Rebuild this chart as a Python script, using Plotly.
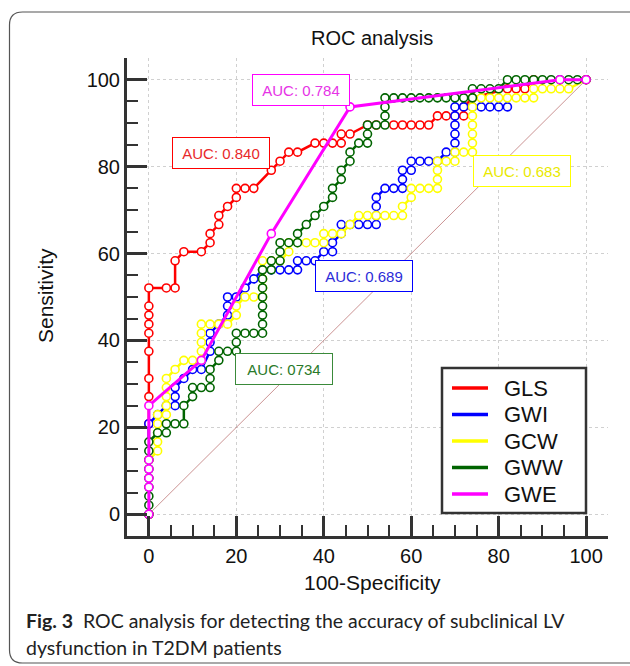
import plotly.graph_objects as go

# ---------------- data (100-Specificity, Sensitivity) ----------------
gls_x = [0, 0, 0, 0, 0, 0, 0, 0, 0, 0, 4, 6, 6, 8, 12, 14, 14, 16, 16, 18, 20, 20, 22, 24, 28, 30, 32, 34,
         38, 40, 42, 44, 44, 46, 50, 52, 56, 58, 60, 62, 64, 66, 68, 70, 72, 72, 74, 82, 84, 86, 88, 100]
gls_y = [0, 20.83, 27.08, 31.25, 37.5, 41.67, 43.75, 45.83, 47.92, 52.08, 52.08, 52.08, 58.33, 60.42, 60.42,
         62.5, 64.58, 66.67, 68.75, 70.83, 72.92, 75, 75, 75, 79.17, 81.25, 83.33, 83.33, 85.42, 85.42, 85.42,
         85.42, 87.5, 87.5, 89.58, 89.58, 89.58, 89.58, 89.58, 89.58, 89.58, 91.67, 91.67, 91.67, 91.67, 93.75,
         95.83, 97.92, 97.92, 97.92, 100, 100]

gwi_x = [0, 0, 2, 4, 6, 6, 6, 8, 10, 12, 14, 14, 14, 16, 18, 18, 18, 20, 22, 24, 26, 28, 30, 32, 34, 34, 36,
         38, 40, 42, 42, 44, 44, 46, 48, 50, 52, 52, 52, 52, 54, 56, 58, 58, 58, 60, 60, 62, 64, 66, 68, 70,
         70, 70, 70, 70, 70, 72, 74, 76, 78, 80, 82]
gwi_y = [0, 20.83, 22.92, 25, 25, 27.08, 29.17, 31.25, 33.33, 33.33, 37.5, 39.58, 41.67, 43.75, 45.83, 47.92,
         50, 50, 52.08, 54.17, 56.25, 56.25, 56.25, 56.25, 56.25, 58.33, 58.33, 58.33, 60.42, 60.42, 62.5,
         64.58, 66.67, 66.67, 66.67, 66.67, 66.67, 68.75, 70.83, 72.92, 75, 75, 75, 77.08, 79.17, 79.17,
         81.25, 81.25, 81.25, 81.25, 83.33, 83.33, 85.42, 87.5, 89.58, 91.67, 93.75, 93.75, 93.75, 93.75,
         93.75, 93.75, 93.75]

gcw_x = [0, 0, 2, 2, 2, 2, 2, 4, 4, 4, 4, 4, 6, 8, 10, 12, 12, 12, 12, 12, 14, 16, 18, 20, 20, 22, 24, 26,
         26, 26, 26, 26, 28, 30, 32, 32, 34, 36, 38, 40, 40, 42, 44, 46, 48, 50, 52, 54, 56, 58, 58, 60, 60,
         62, 64, 66, 66, 66, 66, 68, 70, 70, 72, 74, 74, 74, 74, 74, 74, 74, 76, 78, 80, 82, 84, 86, 88, 88,
         90, 92, 94, 96, 100]
gcw_y = [0, 12.5, 14.58, 16.67, 18.75, 20.83, 22.92, 22.92, 25, 27.08, 29.17, 31.25, 33.33, 35.42, 35.42,
         35.42, 37.5, 39.58, 41.67, 43.75, 43.75, 43.75, 43.75, 45.83, 47.92, 50, 50, 50, 52.08, 54.17, 56.25,
         58.33, 58.33, 58.33, 60.42, 62.5, 62.5, 62.5, 62.5, 62.5, 64.58, 64.58, 64.58, 66.67, 68.75, 68.75,
         68.75, 68.75, 68.75, 68.75, 70.83, 72.92, 75, 75, 75, 75, 77.08, 79.17, 81.25, 81.25, 81.25, 83.33,
         83.33, 83.33, 85.42, 87.5, 89.58, 91.67, 93.75, 95.83, 95.83, 95.83, 95.83, 95.83, 95.83, 95.83,
         95.83, 97.92, 97.92, 97.92, 97.92, 97.92, 100]

gww_x = [0, 0, 0, 0, 0, 0, 0, 0, 0, 2, 4, 4, 6, 8, 8, 10, 10, 12, 14, 14, 14, 16, 16, 18, 20, 20, 20, 22, 24,
         26, 26, 26, 26, 26, 26, 26, 26, 28, 28, 30, 30, 30, 32, 34, 34, 36, 38, 40, 42, 42, 44, 44, 46, 46,
         48, 50, 50, 50, 52, 54, 54, 54, 54, 56, 58, 60, 62, 64, 66, 68, 70, 72, 74, 74, 76, 78, 80, 82, 84,
         86, 88, 90, 92, 94, 96, 98, 100]
gww_y = [0, 2.08, 4.17, 6.25, 8.33, 10.42, 12.5, 14.58, 16.67, 18.75, 18.75, 20.83, 20.83, 20.83, 25, 27.08,
         29.17, 29.17, 29.17, 31.25, 33.33, 35.42, 37.5, 37.5, 37.5, 39.58, 41.67, 41.67, 41.67, 41.67, 43.75,
         45.83, 47.92, 50, 52.08, 54.17, 56.25, 56.25, 58.33, 58.33, 60.42, 62.5, 62.5, 62.5, 64.58, 66.67,
         68.75, 70.83, 72.92, 75, 77.08, 79.17, 81.25, 83.33, 85.42, 85.42, 87.5, 89.58, 89.58, 89.58, 91.67,
         93.75, 95.83, 95.83, 95.83, 95.83, 95.83, 95.83, 95.83, 95.83, 95.83, 95.83, 95.83, 97.92, 97.92,
         97.92, 97.92, 100, 100, 100, 100, 100, 100, 100, 100, 100, 100]

gwe_x = [0, 0, 0, 0, 0, 0, 12, 28, 46, 94, 100]
gwe_y = [0, 6.25, 8.33, 10.42, 12.5, 25, 35.42, 64.58, 93.75, 100, 100]

ref_x = [0, 100]
ref_y = [0, 100]

series_names = ["GLS", "GWI", "GCW", "GWW", "GWE"]
series_colors = ["#ff0000", "#0000ff", "#ffff00", "#006400", "#ff00ff"]
auc_labels = ["AUC: 0.840", "AUC: 0.689", "AUC: 0.683", "AUC: 0734", "AUC: 0.784"]
auc_text_colors = ["#e8282a", "#2b2bd8", "#e9e900", "#2a7a2a", "#e633e6"]

xtick_vals = [0, 20, 40, 60, 80, 100]
ytick_vals = [0, 20, 40, 60, 80, 100]

# ---------------- layout geometry ----------------
W, H = 630, 666
ML, MR, MT, MB = 127, 22, 58, 130
PW = W - ML - MR
PH = H - MT - MB


def px(x):
    return (x - ML) / PW


def py(y):
    return (H - MB - y) / PH


FONT = "Liberation Sans, Arial, sans-serif"

fig = go.Figure()

fig.add_trace(go.Scatter(x=ref_x, y=ref_y, mode="lines", showlegend=False, hoverinfo="skip",
                         line=dict(color="rgba(190,120,120,0.8)", width=1)))

series = [(gls_x, gls_y), (gwi_x, gwi_y), (gcw_x, gcw_y), (gww_x, gww_y), (gwe_x, gwe_y)]
for (sx, sy), name, col in zip(series, series_names, series_colors):
    fig.add_trace(go.Scatter(
        x=sx, y=sy, mode="lines+markers", name=name, showlegend=False,
        line=dict(color=col, width=3 if name == "GWE" else 2.5),
        marker=dict(symbol="circle", size=8, color="white", line=dict(color=col, width=1.6)),
    ))

axis_common = dict(
    range=[-5, 105], showline=True, linewidth=3, linecolor="#333333", mirror=False,
    ticks="inside", ticklen=20, tickwidth=3, tickcolor="#333333",
    showgrid=True, gridcolor="#d0d0d0", griddash="dot", gridwidth=1, zeroline=False,
    tickfont=dict(family=FONT, size=20, color="#111111"),
    minor=dict(ticks="inside", ticklen=11, tickwidth=2, tickcolor="#333333", dtick=5, showgrid=False),
    fixedrange=True,
)
fig.update_xaxes(tickvals=xtick_vals, **axis_common)
fig.update_yaxes(tickvals=ytick_vals, **axis_common)

annotations = []
shapes = []
# AUC boxes
auc_pos = [(16.6, 83.1), (49.1, 54.8), (85.3, 79.0), (30.8, 33.4), (34.7, 97.6)]
for (ax, ay), txt, tcol, bcol in zip(auc_pos, auc_labels, auc_text_colors, series_colors):
    annotations.append(dict(
        x=ax, y=ay, xref="x", yref="y", text=txt, showarrow=False,
        font=dict(family=FONT, size=15, color=tcol),
        bgcolor="white", bordercolor=bcol if bcol != "#006400" else "#3a8a3a", borderwidth=1,
        borderpad=7, width=82, height=16,
    ))

annotations += [
    dict(x=px(372), y=py(38), xref="paper", yref="paper", text="ROC analysis", showarrow=False,
         font=dict(family=FONT, size=20, color="#111111"), xanchor="center", yanchor="middle"),
    dict(x=px(372), y=py(582), xref="paper", yref="paper", text="100-Specificity", showarrow=False,
         font=dict(family=FONT, size=21, color="#111111"), xanchor="center", yanchor="middle"),
    dict(x=px(45), y=py(296), xref="paper", yref="paper", text="Sensitivity", showarrow=False,
         textangle=-90, font=dict(family=FONT, size=21, color="#111111"),
         xanchor="center", yanchor="middle"),
    dict(x=px(24), y=py(620), xref="paper", yref="paper",
         text="<b>Fig. 3</b>  ROC analysis for detecting the accuracy of subclinical LV",
         showarrow=False, font=dict(family="Lato, Open Sans, sans-serif", size=19.5, color="#222222"),
         xanchor="left", yanchor="middle"),
    dict(x=px(24), y=py(647), xref="paper", yref="paper",
         text="dysfunction in T2DM patients",
         showarrow=False, font=dict(family="Lato, Open Sans, sans-serif", size=19.5, color="#222222"),
         xanchor="left", yanchor="middle"),
]

# legend box (drawn in pixel positions of the panel)
LX0, LY0, LX1, LY1 = 442, 368, 586, 513
shapes.append(dict(type="rect", xref="paper", yref="paper", x0=px(LX0), x1=px(LX1), y0=py(LY1), y1=py(LY0),
                   line=dict(color="#333333", width=2.5), fillcolor="white", layer="above"))
for i, (name, col) in enumerate(zip(series_names, series_colors)):
    cy = 388 + i * 26.5
    shapes.append(dict(type="line", xref="paper", yref="paper", x0=px(452), x1=px(488), y0=py(cy), y1=py(cy),
                       line=dict(color=col, width=3.5), layer="above"))
    annotations.append(dict(x=px(502), y=py(cy), xref="paper", yref="paper", text=name, showarrow=False,
                            font=dict(family=FONT, size=22, color="#111111"),
                            xanchor="left", yanchor="middle"))

# outer rounded frame of the figure panel
r = 13
fx0, fy0, fx1, fy1 = 9.5, 12, 660, 663
path = (f"M {px(fx1)},{py(fy0)} L {px(fx0 + r)},{py(fy0)} "
        f"Q {px(fx0)},{py(fy0)} {px(fx0)},{py(fy0 + r)} "
        f"L {px(fx0)},{py(fy1 - r)} Q {px(fx0)},{py(fy1)} {px(fx0 + r)},{py(fy1)} "
        f"L {px(fx1)},{py(fy1)}")
shapes.append(dict(type="path", path=path, xref="paper", yref="paper",
                   line=dict(color="#555555", width=1.2), layer="below"))

fig.update_layout(
    width=W, height=H,
    margin=dict(l=ML, r=MR, t=MT, b=MB),
    paper_bgcolor="white", plot_bgcolor="white",
    annotations=annotations,
    shapes=shapes,
    showlegend=False,
)

fig.write_html("out.html")
